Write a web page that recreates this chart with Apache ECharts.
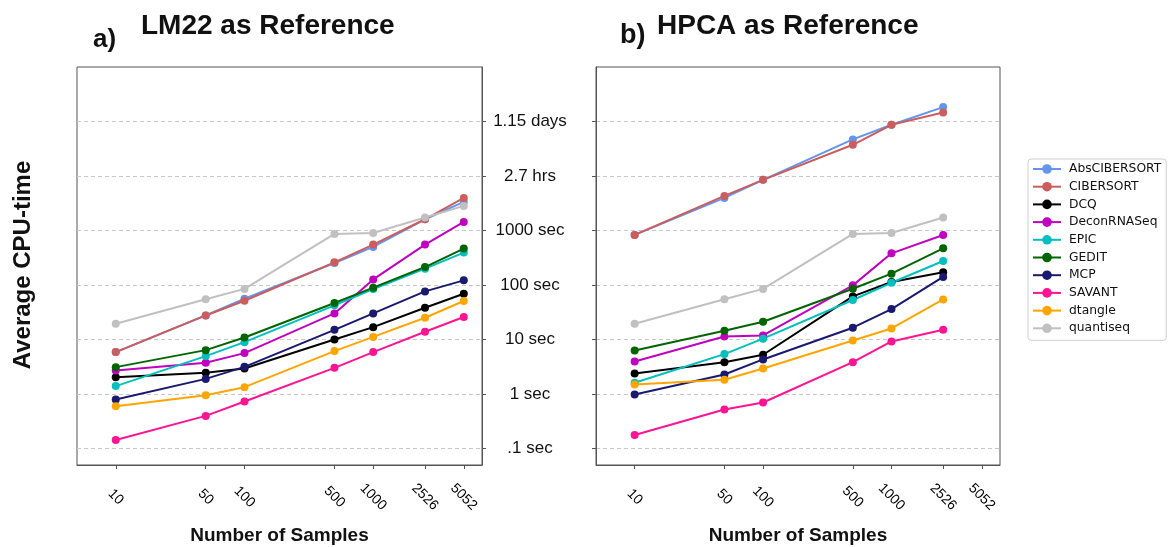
<!DOCTYPE html>
<html>
<head>
<meta charset="utf-8">
<script src="https://cdn.jsdelivr.net/npm/echarts@6/dist/echarts.min.js"></script>
<style>
html,body{margin:0;padding:0;background:#fff;}
#chart{width:1168px;height:547px;}
</style>
</head>
<body>
<div id="chart"></div>
<script>
// ---- data ----
const samples = [10, 50, 100, 500, 1000, 2526, 5052];
const yTickValues = [0.1, 1, 10, 100, 1000, 10000, 100000];
const yTickLabels = ['.1 sec', '1 sec', '10 sec', '100 sec', '1000 sec', '2.7 hrs', '1.15 days'];
const methods = ['AbsCIBERSORT', 'CIBERSORT', 'DCQ', 'DeconRNASeq', 'EPIC', 'GEDIT', 'MCP', 'SAVANT', 'dtangle', 'quantiseq'];

// LM22 as reference (seconds), one value per sample size
const lm22_AbsCIBERSORT = [5.9, 27.7, 56, 254, 500, 1610, 3350];
const lm22_CIBERSORT   = [5.9, 27.7, 51.6, 261, 552, 1610, 3970];
const lm22_DCQ         = [2.04, 2.45, 2.95, 10.0, 16.9, 38.4, 69.3];
const lm22_DeconRNASeq = [2.71, 3.75, 5.64, 30.2, 127, 552, 1440];
const lm22_EPIC        = [1.40, 4.97, 8.97, 42.4, 84.5, 200, 394];
const lm22_GEDIT       = [3.12, 6.4, 10.9, 46.8, 89.5, 214, 466];
const lm22_MCP         = [0.794, 1.90, 3.16, 15.1, 30.2, 76.5, 122];
const lm22_SAVANT      = [0.144, 0.398, 0.730, 3.03, 5.89, 13.9, 25.9];
const lm22_dtangle     = [0.60, 0.955, 1.34, 6.14, 11.2, 25.1, 50.9];
const lm22_quantiseq   = [19.5, 55, 85, 865, 903, 1730, 2830];

// HPCA as reference (seconds), up to 2526 samples
const hpca_AbsCIBERSORT = [830, 3970, 8510, 46900, 87100, 184000];
const hpca_CIBERSORT   = [830, 4320, 8510, 37400, 87100, 146500];
const hpca_DCQ         = [2.39, 3.85, 5.26, 61.9, 114, 171];
const hpca_DeconRNASeq = [3.96, 11.4, 11.9, 98.7, 382, 830];
const hpca_EPIC        = [1.61, 5.41, 10.4, 53.1, 110, 276];
const hpca_GEDIT       = [6.31, 14.5, 21.2, 85.7, 162, 472];
const hpca_MCP         = [0.98, 2.29, 4.32, 16.5, 36.3, 141];
const hpca_SAVANT      = [0.178, 0.52, 0.70, 3.85, 9.25, 15.1];
const hpca_dtangle     = [1.50, 1.83, 2.95, 9.64, 16.0, 54.6];
const hpca_quantiseq   = [19.5, 55, 85, 865, 903, 1730];

// ---- styling ----
const colors = ['#6495ED', '#CD5C5C', '#000000', '#BF00BF', '#00BFBF', '#006400', '#191970', '#FF1493', '#FFA500', '#C0C0C0'];
const lm22 = [lm22_AbsCIBERSORT, lm22_CIBERSORT, lm22_DCQ, lm22_DeconRNASeq, lm22_EPIC, lm22_GEDIT, lm22_MCP, lm22_SAVANT, lm22_dtangle, lm22_quantiseq];
const hpca = [hpca_AbsCIBERSORT, hpca_CIBERSORT, hpca_DCQ, hpca_DeconRNASeq, hpca_EPIC, hpca_GEDIT, hpca_MCP, hpca_SAVANT, hpca_dtangle, hpca_quantiseq];

const SANS = "'Liberation Sans', Arial, sans-serif";
const axisColor = '#555';

function xAxisCfg(gridIndex) {
  return {
    type: 'log', gridIndex: gridIndex, min: 5, max: 7000, logBase: 10,
    name: 'Number of Samples', nameLocation: 'middle', nameGap: 61,
    nameTextStyle: { fontFamily: SANS, fontWeight: 'bold', fontSize: 19, color: '#111' },
    axisLine: { show: true, lineStyle: { color: axisColor } },
    axisTick: { show: true, length: 4, customValues: samples, lineStyle: { color: axisColor } },
    axisLabel: {
      customValues: samples, rotate: -45, align: 'center', verticalAlign: 'middle', margin: 32,
      fontFamily: SANS, fontSize: 14, color: '#000',
      formatter: v => String(Math.round(v))
    },
    splitLine: { show: false },
    minorTick: { show: false }, minorSplitLine: { show: false }
  };
}
function yAxisCfg(gridIndex, position, showLabels) {
  return {
    type: 'log', gridIndex: gridIndex, min: 0.05, max: 1000000, logBase: 10, position: position,
    axisLine: { show: true, lineStyle: { color: axisColor } },
    axisTick: { show: true, length: 4, customValues: yTickValues, lineStyle: { color: axisColor } },
    axisLabel: {
      show: showLabels, customValues: yTickValues, align: 'center', margin: 66,
      fontFamily: SANS, fontSize: 17, color: '#111',
      formatter: v => {
        const i = yTickValues.findIndex(t => Math.abs(Math.log10(t) - Math.log10(v)) < 1e-6);
        return i >= 0 ? yTickLabels[i] : '';
      }
    },
    splitLine: { show: true, lineStyle: { color: '#c8c8c8', type: [4, 3], width: 1 } }
  };
}

const series = [];
methods.forEach((m, i) => {
  series.push({
    name: m, type: 'line', xAxisIndex: 0, yAxisIndex: 0,
    data: lm22[i].map((v, j) => [samples[j], v]),
    symbol: 'circle', symbolSize: 8, showSymbol: true,
    lineStyle: { width: 2, color: colors[i] }, itemStyle: { color: colors[i] },
    emphasis: { disabled: true }, animation: false
  });
  series.push({
    name: m, type: 'line', xAxisIndex: 1, yAxisIndex: 1,
    data: hpca[i].map((v, j) => [samples[j], v]),
    symbol: 'circle', symbolSize: 8, showSymbol: true,
    lineStyle: { width: 2, color: colors[i] }, itemStyle: { color: colors[i] },
    emphasis: { disabled: true }, animation: false
  });
});

const chart = echarts.init(document.getElementById('chart'), null, { renderer: 'canvas' });
chart.setOption({
  animation: false,
  backgroundColor: '#fff',
  color: colors,
  title: [
    { text: 'a)', left: 93, top: 27, padding: 0, textStyle: { fontFamily: SANS, fontWeight: 'bold', fontSize: 26, color: '#111' } },
    { text: 'LM22 as Reference', left: 141, top: 12, padding: 0, textStyle: { fontFamily: SANS, fontWeight: 'bold', fontSize: 28, color: '#111' } },
    { text: 'b)', left: 620, top: 22, padding: 0, textStyle: { fontFamily: SANS, fontWeight: 'bold', fontSize: 27, color: '#111' } },
    { text: 'HPCA as Reference', left: 657, top: 12, padding: 0, textStyle: { fontFamily: SANS, fontWeight: 'bold', fontSize: 28, color: '#111' } }
  ],
  graphic: [
    { type: 'text', x: 23, y: 265, rotation: Math.PI / 2,
      style: { text: 'Average CPU-time', fontFamily: SANS, fontWeight: 'bold', fontSize: 24, fill: '#111', align: 'center', verticalAlign: 'middle' } }
  ],
  legend: {
    data: methods, orient: 'vertical', left: 1028, top: 159,
    itemWidth: 28, itemHeight: 12, itemGap: 5.7,
    padding: [4, 5, 6, 4],
    backgroundColor: '#fff', borderColor: '#d0d0d0', borderWidth: 1, borderRadius: 3,
    textStyle: { fontFamily: "'DejaVu Sans', sans-serif", fontSize: 12.3, color: '#111', lineHeight: 12, padding: [0, 0, 0, 3] },
    selectedMode: false
  },
  grid: [
    { left: 77, top: 67, width: 405, height: 398, outerBoundsMode: 'none', containLabel: false, show: true, borderColor: axisColor, borderWidth: 1, backgroundColor: 'transparent' },
    { left: 596, top: 67, width: 404, height: 398, outerBoundsMode: 'none', containLabel: false, show: true, borderColor: axisColor, borderWidth: 1, backgroundColor: 'transparent' }
  ],
  xAxis: [xAxisCfg(0), xAxisCfg(1)],
  yAxis: [yAxisCfg(0, 'right', false), yAxisCfg(1, 'left', true)],
  series: series
});
</script>
</body>
</html>
